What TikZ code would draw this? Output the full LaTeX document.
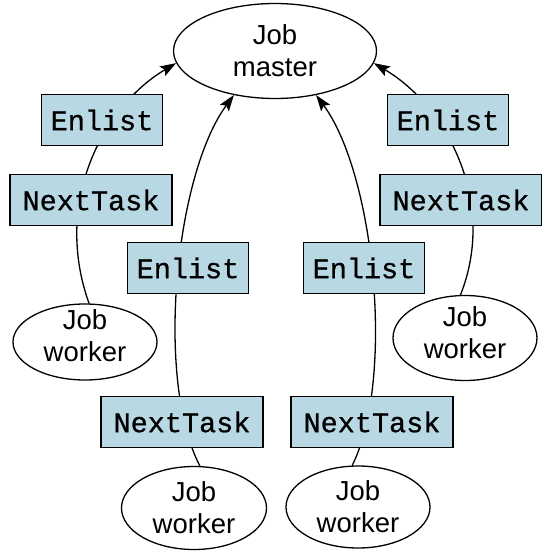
\documentclass[tikz,border=0pt]{standalone}
\usepackage{fontspec}
\setmainfont{Liberation Sans}
\newfontfamily\codefont[FakeBold=0.8]{Liberation Mono}
\usetikzlibrary{arrows.meta,shapes.geometric}
\definecolor{callfill}{RGB}{184,216,227}
\begin{document}
\begin{tikzpicture}[x=1pt,y=-1pt,
  proc/.style={ellipse,draw,line width=1.3pt,inner sep=0pt},
  caption/.style={align=center,inner sep=0pt,font=\fontsize{27.5}{32}\selectfont},
  call/.style={rectangle,draw,fill=callfill,line width=1.3pt,inner sep=0pt,
    minimum height=51pt,font=\codefont\fontsize{28.5}{30}\selectfont},
  enlist/.style={call,minimum width=121pt},
  nexttask/.style={call,minimum width=162pt},
  rpc/.style={line width=1.3pt,-{Stealth[length=16pt,width=11pt,inset=3pt]}}]
\useasboundingbox (0,0) rectangle (541,551);

% master and workers
\node[proc,minimum width=203pt,minimum height=95pt] (m) at (275,51) {};
\node[caption] (mt) at (m) {Job\\master};
\node[proc,minimum width=144pt,minimum height=76pt] (w1) at (85,342) {};
\node[caption,yshift=6pt] (w1t) at (w1) {Job\\worker};
\node[proc,minimum width=144pt,minimum height=85pt] (w2) at (465,338) {};
\node[caption,yshift=5pt] (w2t) at (w2) {Job\\worker};
\node[proc,minimum width=145pt,minimum height=83pt] (w3) at (194,508) {};
\node[caption] (w3t) at (w3) {Job\\worker};
\node[proc,minimum width=144pt,minimum height=82pt] (w4) at (358,507) {};
\node[caption] (w4t) at (w4) {Job\\worker};

% calls from each worker up to the master
\draw[rpc] (w1.84) .. controls (52,200) and (105,105) .. (m.187);
\draw[rpc] (w2.96) .. controls (498,200) and (445,105) .. (m.-7);
\draw[rpc] (w3.82) .. controls (155,380) and (175,175) .. (m.227);
\draw[rpc] (w4.98) .. controls (395,380) and (375,175) .. (m.-47);

% RPC labels sitting on the calls
\node[enlist]   (e1) at (102,120) {Enlist};
\node[nexttask] (n1) at (91,200)  {NextTask};
\node[enlist]   (e2) at (448,120) {Enlist};
\node[nexttask] (n2) at (461,200) {NextTask};
\node[enlist]   (e3) at (188,268) {Enlist};
\node[nexttask] (n3) at (182,422) {NextTask};
\node[enlist]   (e4) at (364,268) {Enlist};
\node[nexttask] (n4) at (372,422) {NextTask};
\end{tikzpicture}
\end{document}
